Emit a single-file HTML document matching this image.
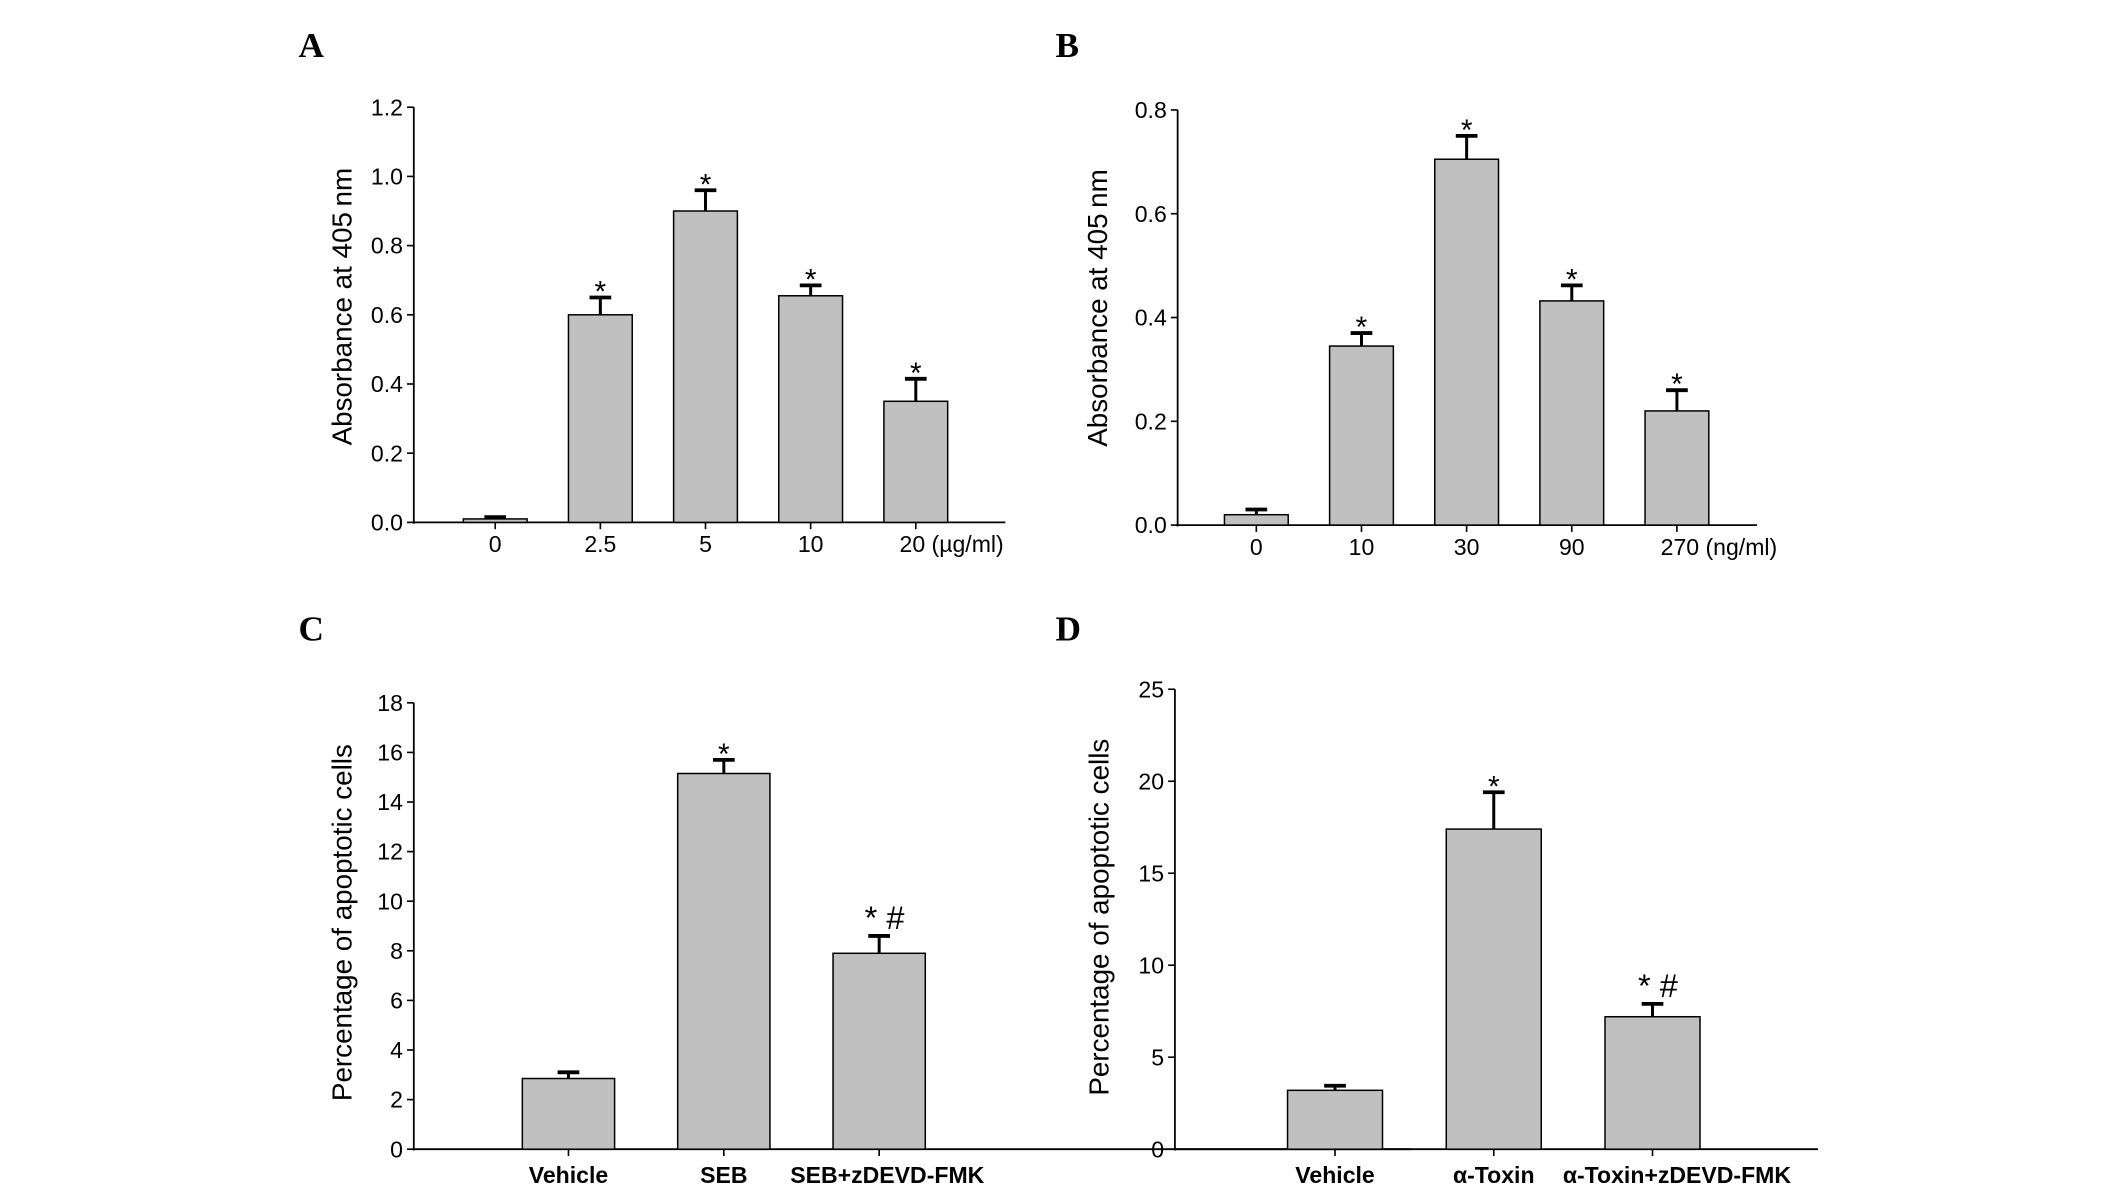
<!DOCTYPE html>
<html><head><meta charset="utf-8"><style>
html,body{margin:0;padding:0;background:#fff;}
svg{display:block;}
text{font-family:"Liberation Sans",sans-serif;fill:#000;}
</style></head><body>
<svg id="fig" width="2126" height="1194" viewBox="0 0 1567 880" xmlns="http://www.w3.org/2000/svg"></svg>
<script>
// Panel A data
const catsA = ["0","2.5","5","10","20 (\u00b5g/ml)"];
const valsA = [0.01,0.60,0.90,0.655,0.35];
const errA = [0.005,0.05,0.06,0.03,0.065];
const ticksA = [0,0.2,0.4,0.6,0.8,1.0,1.2];
const sigA = ["","*","*","*","*"];
// Panel B data
const catsB = ["0","10","30","90","270 (ng/ml)"];
const valsB = [0.02,0.345,0.705,0.432,0.22];
const errB = [0.01,0.025,0.045,0.03,0.04];
const ticksB = [0,0.2,0.4,0.6,0.8];
const sigB = ["","*","*","*","*"];
// Panel C data
const catsC = ["Vehicle","SEB","SEB+zDEVD-FMK"];
const valsC = [2.85,15.15,7.9];
const errC = [0.25,0.55,0.7];
const ticksC = [0,2,4,6,8,10,12,14,16,18];
const sigC = ["","*","* #"];
// Panel D data
const catsD = ["Vehicle","\u03b1-Toxin","\u03b1-Toxin+zDEVD-FMK"];
const valsD = [3.2,17.4,7.2];
const errD = [0.25,2.0,0.7];
const ticksD = [0,5,10,15,20,25];
const sigD = ["","*","* #"];

const NS="http://www.w3.org/2000/svg";
const svg=document.getElementById('fig');
function mk(tag,attrs,parent){const e=document.createElementNS(NS,tag);for(const k in attrs)e.setAttribute(k,attrs[k]);(parent||svg).appendChild(e);return e;}

function panel(o){
  const g=mk('g',{});
  
  
  const ymax=o.ticks[o.ticks.length-1];
  const y=v=>o.y0-(v/ymax)*(o.y0-o.yTop);
  const x=i=>o.c0+i*o.step;
  const lt=mk('text',{x:o.lx,y:o.ly,'font-size':26,'font-weight':'bold',style:'font-family:"Liberation Serif",serif'},g);
  lt.textContent=o.letter;
  
  
  const ax=mk('line',{x1:o.ax,y1:o.yTop,x2:o.ax,y2:o.y0+1,stroke:'#000','stroke-width':1.3},g);
  
  
  const xa=mk('line',{x1:o.ax-1,y1:o.y0,x2:o.xEnd,y2:o.y0,stroke:'#000','stroke-width':1.3},g);
  
  
  o.ticks.forEach(t=>{
    mk('line',{x1:o.ax-5,y1:y(t),x2:o.ax,y2:y(t),stroke:'#000','stroke-width':1.2},g);
    const tx=mk('text',{x:o.ax-8,y:y(t)+6,'font-size':17,'text-anchor':'end'},g);
    tx.textContent=o.tickFmt(t);
    
    
  });
  const yt=mk('text',{x:0,y:0,'font-size':20.5,'text-anchor':'middle',transform:`translate(${o.tx},${o.ty}) rotate(-90)`},g);
  yt.textContent=o.title;
  
  
  o.vals.forEach((v,i)=>{
    const cx=x(i);
    const top=y(v+o.err[i]);
    mk('line',{x1:cx,y1:y(v),x2:cx,y2:top,stroke:'#000','stroke-width':2.2},g);
    mk('line',{x1:cx-8,y1:top,x2:cx+8,y2:top,stroke:'#000','stroke-width':2.8},g);
    const b=mk('rect',{x:cx-o.bw/2,y:y(v),width:o.bw,height:o.y0-y(v),fill:'#c0c0c0',stroke:'#000','stroke-width':1.1},g);
    
    
    mk('line',{x1:cx,y1:o.y0,x2:cx,y2:o.y0+5,stroke:'#000','stroke-width':1.2},g);
    const last=i===o.vals.length-1;
    const lx=o.labAnchor&&last?cx-12:cx+(last?o.lastShift:0);
    const cl=mk('text',{x:lx,y:o.y0+o.labDy,'font-size':o.labSize,'font-weight':o.labBold?'bold':'normal','text-anchor':o.labAnchor&&last?'start':'middle'},g);
    cl.textContent=o.cats[i];
    
    
    if(o.sig[i]){
      const big=o.sig[i].length>1;
      const s=mk('text',{x:cx+(big?4:0),y:top-(big?5:-3),'font-size':big?24:22,'text-anchor':'middle'},g);
      s.textContent=o.sig[i];
      
      
    }
  });
}
panel({name:'panel-a',letter:'A',lx:220,ly:42,ax:305,yTop:79,y0:385,xEnd:741,c0:365,step:77.5,bw:47,
  cats:catsA,vals:valsA,err:errA,ticks:ticksA,sig:sigA,tickFmt:t=>t.toFixed(1),
  title:'Absorbance at 405\u202fnm',tx:259,ty:226,labDy:22,labSize:17,labBold:false,labAnchor:true,lastShift:0});
panel({name:'panel-b',letter:'B',lx:778,ly:42,ax:868,yTop:81,y0:387,xEnd:1295,c0:926,step:77.5,bw:47,
  cats:catsB,vals:valsB,err:errB,ticks:ticksB,sig:sigB,tickFmt:t=>t.toFixed(1),
  title:'Absorbance at 405\u202fnm',tx:816,ty:227,labDy:22,labSize:17,labBold:false,labAnchor:true,lastShift:0});
panel({name:'panel-c',letter:'C',lx:220,ly:472,ax:305,yTop:518,y0:847,xEnd:1040,c0:419,step:114.5,bw:68,
  cats:catsC,vals:valsC,err:errC,ticks:ticksC,sig:sigC,tickFmt:t=>String(t),
  title:'Percentage of apoptotic cells',tx:259,ty:680,labDy:25,labSize:17,labBold:true,labAnchor:false,lastShift:6});
panel({name:'panel-d',letter:'D',lx:778,ly:472,ax:866,yTop:508,y0:847,xEnd:1340,c0:984,step:117,bw:70,
  cats:catsD,vals:valsD,err:errD,ticks:ticksD,sig:sigD,tickFmt:t=>String(t),
  title:'Percentage of apoptotic cells',tx:817,ty:676,labDy:25,labSize:17,labBold:true,labAnchor:false,lastShift:18});
</script>
</body></html>
